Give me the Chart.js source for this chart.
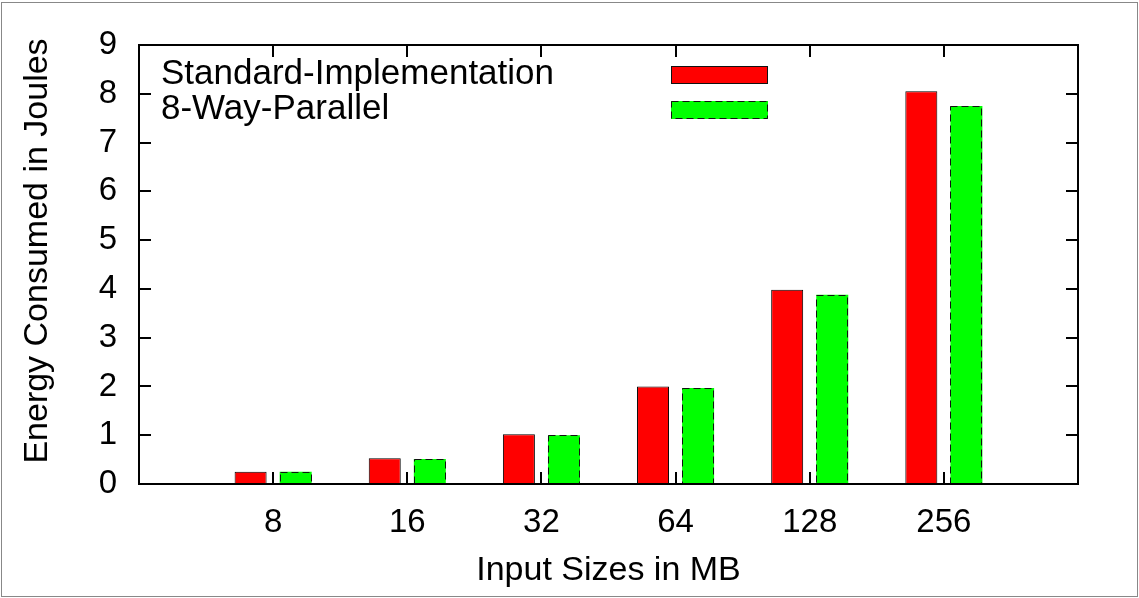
<!DOCTYPE html>
<html>
<head>
<meta charset="utf-8">
<script src="https://cdn.jsdelivr.net/npm/chart.js@4.4.1/dist/chart.umd.min.js"></script>
<style>
  body { margin: 0; background: #fff; }
  canvas { display: block; }
</style>
</head>
<body>
<canvas id="energyChart" width="1139" height="598"></canvas>
<script>
const sizes = ['8', '16', '32', '64', '128', '256'];
const standardJoules = [0.25, 0.53, 1.02, 2.0, 3.98, 8.05];
const parallelJoules = [0.25, 0.51, 1.0, 1.97, 3.88, 7.75];
const yTicks = [0, 1, 2, 3, 4, 5, 6, 7, 8, 9];

// one empty slot on each side of the groups, like the gnuplot xrange
const labels = ['', ...sizes, ''];
const pad = arr => [null, ...arr, null];

const FONT = "'Liberation Sans', Arial, Helvetica, sans-serif";
const TICK_SIZE = 33;
const TITLE_SIZE = 34;
const KEY_SIZE = 35;

const gnuplotFrame = {
    id: 'gnuplotFrame',
    beforeDraw(chart) {
        const ctx = chart.ctx;
        ctx.save();
        ctx.fillStyle = '#fff';
        ctx.fillRect(0, 0, chart.width, chart.height);
        ctx.strokeStyle = '#888';
        ctx.lineWidth = 1;
        ctx.strokeRect(1.5, 2.5, chart.width - 3, chart.height - 4);
        ctx.restore();
    },
    afterDatasetsDraw(chart) {
        const { ctx, chartArea: a, scales: { x, y } } = chart;
        ctx.save();

        // dashed outline around the parallel bars
        const meta = chart.getDatasetMeta(1);
        const vals = chart.data.datasets[1].data;
        ctx.strokeStyle = '#111';
        ctx.lineWidth = 1;
        ctx.setLineDash([7, 4]);
        meta.data.forEach((bar, i) => {
            if (vals[i] == null) return;
            const p = bar.getProps(['x', 'y', 'base', 'width'], true);
            const left = Math.round(p.x - p.width / 2) + 0.5;
            const top = Math.round(p.y) + 0.5;
            ctx.strokeRect(left, top, Math.round(p.width) - 1, Math.round(p.base - p.y));
        });

        // plot frame
        ctx.setLineDash([]);
        ctx.strokeStyle = '#000';
        ctx.lineWidth = 2;
        ctx.strokeRect(a.left, a.top, a.right - a.left, a.bottom - a.top);

        // inward tick marks on all four sides
        const tl = 12;
        ctx.beginPath();
        yTicks.forEach(v => {
            const py = Math.round(y.getPixelForValue(v));
            ctx.moveTo(a.left, py); ctx.lineTo(a.left + tl, py);
            ctx.moveTo(a.right, py); ctx.lineTo(a.right - tl, py);
        });
        sizes.forEach((s, i) => {
            const px = Math.round(x.getPixelForValue(i + 1));
            ctx.moveTo(px, a.bottom); ctx.lineTo(px, a.bottom - tl);
            ctx.moveTo(px, a.top); ctx.lineTo(px, a.top + tl);
        });
        ctx.stroke();

        // key: label on the left, sample box on the right
        ctx.font = KEY_SIZE + 'px ' + FONT;
        ctx.fillStyle = '#000';
        ctx.textAlign = 'left';
        ctx.textBaseline = 'alphabetic';
        chart.data.datasets.forEach((ds, i) => {
            const base = 84 + i * 35;
            ctx.fillText(ds.label, 161, base);
            ctx.fillStyle = ds.backgroundColor;
            ctx.fillRect(671, base - 18, 97, 18);
            ctx.lineWidth = 1;
            ctx.strokeStyle = '#111';
            ctx.setLineDash(i === 1 ? [7, 4] : []);
            ctx.strokeRect(671.5, base - 17.5, 96, 17);
            ctx.setLineDash([]);
            ctx.fillStyle = '#000';
        });

        // y axis title
        ctx.font = TITLE_SIZE + 'px ' + FONT;
        ctx.translate(38, 251);
        ctx.rotate(-Math.PI / 2);
        ctx.textAlign = 'center';
        ctx.textBaseline = 'middle';
        ctx.fillText('Energy Consumed in Joules', 0, 0);

        ctx.restore();
    }
};

new Chart(document.getElementById('energyChart'), {
    type: 'bar',
    data: {
        labels: labels,
        datasets: [{
            label: 'Standard-Implementation',
            data: pad(standardJoules),
            backgroundColor: '#ff0000',
            borderColor: '#000',
            borderWidth: 1,
            borderSkipped: false
        },
        {
            label: '8-Way-Parallel',
            data: pad(parallelJoules),
            backgroundColor: '#00ff00',
            borderWidth: 0
        }]
    },
    options: {
        responsive: false,
        animation: false,
        categoryPercentage: 0.672,
        barPercentage: 0.71,
        layout: {
            padding: { left: 0, top: 45, right: 61, bottom: 0 }
        },
        plugins: {
            legend: { display: false },
            tooltip: { enabled: false }
        },
        scales: {
            x: {
                offset: false,
                grid: { display: false, drawTicks: false },
                border: { display: false },
                ticks: {
                    autoSkip: false,
                    maxRotation: 0,
                    padding: 19,
                    color: '#000',
                    font: { family: FONT, size: TICK_SIZE }
                },
                title: {
                    display: true,
                    text: 'Input Sizes in MB',
                    color: '#000',
                    font: { family: FONT, size: TITLE_SIZE },
                    padding: { top: 0, bottom: 7 }
                },
                afterFit(scale) { scale.height = 114; }
            },
            y: {
                min: 0,
                max: 9,
                grid: { display: false, drawTicks: false },
                border: { display: false },
                ticks: {
                    stepSize: 1,
                    padding: 22,
                    color: '#000',
                    font: { family: FONT, size: TICK_SIZE }
                },
                afterFit(scale) { scale.width = 139; }
            }
        }
    },
    plugins: [gnuplotFrame]
});
</script>
</body>
</html>
